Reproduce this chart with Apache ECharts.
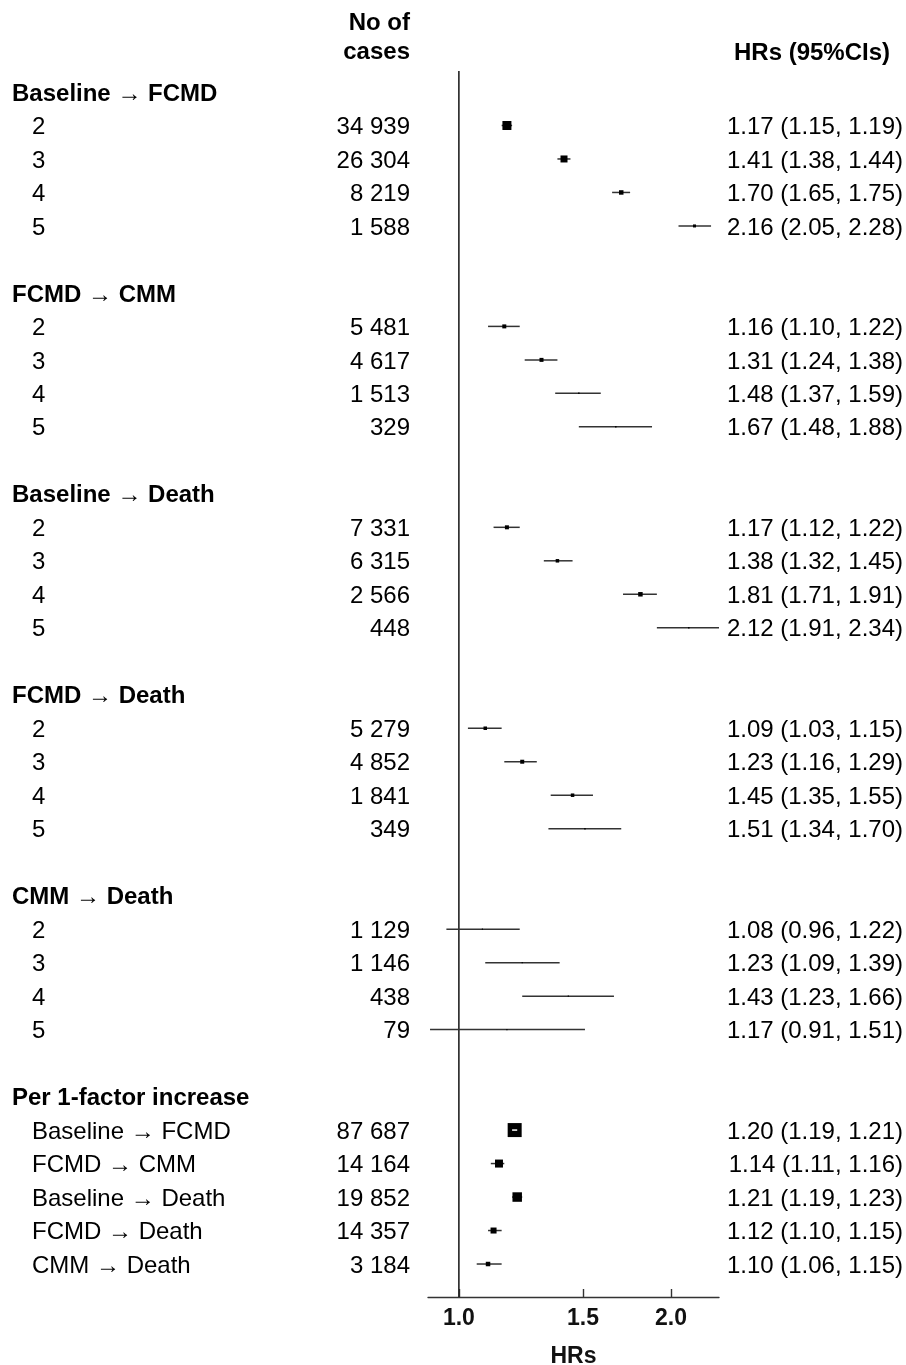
<!DOCTYPE html>
<html>
<head>
<meta charset="utf-8">
<script src="https://cdn.jsdelivr.net/npm/echarts@6/dist/echarts.min.js"></script>
<style>
html,body{margin:0;padding:0;background:#fff;}
#chart{width:906px;height:1365px;}
</style>
</head>
<body>
<div id="chart"></div>
<script>
// ---------------- DATA ----------------
const groupTitles = ["Baseline \u2192 FCMD", "FCMD \u2192 CMM", "Baseline \u2192 Death", "FCMD \u2192 Death", "CMM \u2192 Death", "Per 1-factor increase"];
const itemLabels = [
  ["2", "3", "4", "5"],
  ["2", "3", "4", "5"],
  ["2", "3", "4", "5"],
  ["2", "3", "4", "5"],
  ["2", "3", "4", "5"],
  ["Baseline \u2192 FCMD", "FCMD \u2192 CMM", "Baseline \u2192 Death", "FCMD \u2192 Death", "CMM \u2192 Death"]
];
const caseCounts = [
  ["34 939", "26 304", "8 219", "1 588"],
  ["5 481", "4 617", "1 513", "329"],
  ["7 331", "6 315", "2 566", "448"],
  ["5 279", "4 852", "1 841", "349"],
  ["1 129", "1 146", "438", "79"],
  ["87 687", "14 164", "19 852", "14 357", "3 184"]
];
const hrValues = [
  [1.17, 1.41, 1.70, 2.16],
  [1.16, 1.31, 1.48, 1.67],
  [1.17, 1.38, 1.81, 2.12],
  [1.09, 1.23, 1.45, 1.51],
  [1.08, 1.23, 1.43, 1.17],
  [1.20, 1.14, 1.21, 1.12, 1.10]
];
const ciLower = [
  [1.15, 1.38, 1.65, 2.05],
  [1.10, 1.24, 1.37, 1.48],
  [1.12, 1.32, 1.71, 1.91],
  [1.03, 1.16, 1.35, 1.34],
  [0.96, 1.09, 1.23, 0.91],
  [1.19, 1.11, 1.19, 1.10, 1.06]
];
const ciUpper = [
  [1.19, 1.44, 1.75, 2.28],
  [1.22, 1.38, 1.59, 1.88],
  [1.22, 1.45, 1.91, 2.34],
  [1.15, 1.29, 1.55, 1.70],
  [1.22, 1.39, 1.66, 1.51],
  [1.21, 1.16, 1.23, 1.15, 1.15]
];
// relative study weight (drives box size)
const markerWeight = [
  [9, 7, 4.5, 3],
  [4, 4, 1.5, 1.5],
  [4, 3.5, 4.5, 1.5],
  [3.5, 4, 3.5, 1.5],
  [1.2, 1.2, 1.2, 1.2],
  [14, 8, 9.5, 6, 4.5]
];
const xTickValues = [1.0, 1.5, 2.0];
const xAxisTitle = "HRs";
const headerCases = ["No of", "cases"];
const headerHR = "HRs (95%CIs)";

// ---------------- LAYOUT / STYLE ----------------
const FONT = "'Liberation Sans', Arial, 'DejaVu Sans', sans-serif";
const FS = 24;
const TEXT_DY = 2;
const boxScale = 1;
const xMinHR = 0.904, xMaxHR = 2.34;
const rowMin = -0.627, rowMax = 35.985;

// build row table
const textRows = [];
const forestData = [];
let r = 0;
groupTitles.forEach((t, g) => {
  textRows.push({row: r, label: t, bold: true, indent: false, count: "", hr: ""});
  r++;
  itemLabels[g].forEach((lab, i) => {
    const hr = hrValues[g][i], lo = ciLower[g][i], hi = ciUpper[g][i];
    textRows.push({row: r, label: lab, bold: false, indent: true, count: caseCounts[g][i],
      hr: hr.toFixed(2) + " (" + lo.toFixed(2) + ", " + hi.toFixed(2) + ")"});
    forestData.push([Math.log(hr), r, Math.log(lo), Math.log(hi), markerWeight[g][i]]);
    r++;
  });
  r++; // blank spacer row
});

function renderForest(params, api) {
  const row = api.value(1);
  const c = api.coord([api.value(0), row]);
  const xl = api.coord([api.value(2), row])[0];
  const xh = api.coord([api.value(3), row])[0];
  const s = api.value(4) * boxScale;
  const y = c[1];
  const children = [
    {type: 'line', shape: {x1: xl, y1: y, x2: xh, y2: y}, style: {stroke: '#333', lineWidth: 1.5}},
    {type: 'rect', shape: {x: c[0] - s / 2, y: y - s / 2, width: s, height: s}, style: {fill: '#000'}}
  ];
  if (xh - xl < s - 2) {
    children.push({type: 'line', shape: {x1: xl, y1: y, x2: xh, y2: y}, style: {stroke: '#fff', lineWidth: 1.5}});
  }
  return {type: 'group', children: children};
}

function renderText(params, api) {
  const d = textRows[params.dataIndex];
  const y = api.coord([0, d.row])[1] + TEXT_DY;
  const weight = d.bold ? 'bold' : 'normal';
  const children = [
    {type: 'text', style: {text: d.label, x: d.indent ? 32 : 12, y: y, fill: '#000',
      font: weight + ' ' + FS + 'px ' + FONT, align: 'left', verticalAlign: 'middle'}}
  ];
  if (d.count) children.push({type: 'text', style: {text: d.count, x: 410, y: y, fill: '#000',
      font: 'normal ' + FS + 'px ' + FONT, align: 'right', verticalAlign: 'middle'}});
  if (d.hr) children.push({type: 'text', style: {text: d.hr, x: 903, y: y, fill: '#000',
      font: 'normal ' + FS + 'px ' + FONT, align: 'right', verticalAlign: 'middle'}});
  return {type: 'group', children: children};
}

const tickLn = xTickValues.map(v => Math.log(v));

const chart = echarts.init(document.getElementById('chart'), null, {renderer: 'canvas'});
chart.setOption({
  backgroundColor: '#fff',
  animation: false,
  grid: {left: 428, right: 187, top: 71, bottom: 68, containLabel: false, outerBoundsMode: 'none'},
  xAxis: {
    type: 'value',
    min: Math.log(xMinHR),
    max: Math.log(xMaxHR),
    splitLine: {show: false},
    axisLine: {show: true, onZero: false, lineStyle: {color: '#333', width: 1.4}},
    axisTick: {show: true, inside: true, length: 8, customValues: tickLn, lineStyle: {color: '#333', width: 1.4}},
    axisLabel: {show: true, customValues: tickLn, margin: 10,
      formatter: v => Math.exp(v).toFixed(1),
      fontFamily: FONT, fontSize: 23, fontWeight: 'bold', color: '#111'},
    name: xAxisTitle,
    nameLocation: 'middle',
    nameGap: 48,
    nameTextStyle: {fontFamily: FONT, fontSize: 23, fontWeight: 'bold', color: '#111'}
  },
  yAxis: {type: 'value', inverse: true, min: rowMin, max: rowMax, show: false},
  graphic: [
    {type: 'text', style: {text: headerCases[0], x: 410, y: 23, align: 'right', verticalAlign: 'middle',
      font: 'bold ' + FS + 'px ' + FONT, fill: '#000'}},
    {type: 'text', style: {text: headerCases[1], x: 410, y: 52, align: 'right', verticalAlign: 'middle',
      font: 'bold ' + FS + 'px ' + FONT, fill: '#000'}},
    {type: 'text', style: {text: headerHR, x: 812, y: 53, align: 'center', verticalAlign: 'middle',
      font: 'bold ' + FS + 'px ' + FONT, fill: '#000'}}
  ],
  series: [
    {
      type: 'line',
      data: [[0, rowMin], [0, rowMax]],
      symbol: 'none',
      lineStyle: {color: '#222', width: 1.6},
      silent: true,
      z: 1
    },
    {
      type: 'custom',
      renderItem: renderForest,
      data: forestData,
      silent: true,
      clip: false,
      z: 3
    },
    {
      type: 'custom',
      renderItem: renderText,
      data: textRows.map(d => [0, d.row]),
      silent: true,
      clip: false,
      z: 4
    }
  ]
});
</script>
</body>
</html>
